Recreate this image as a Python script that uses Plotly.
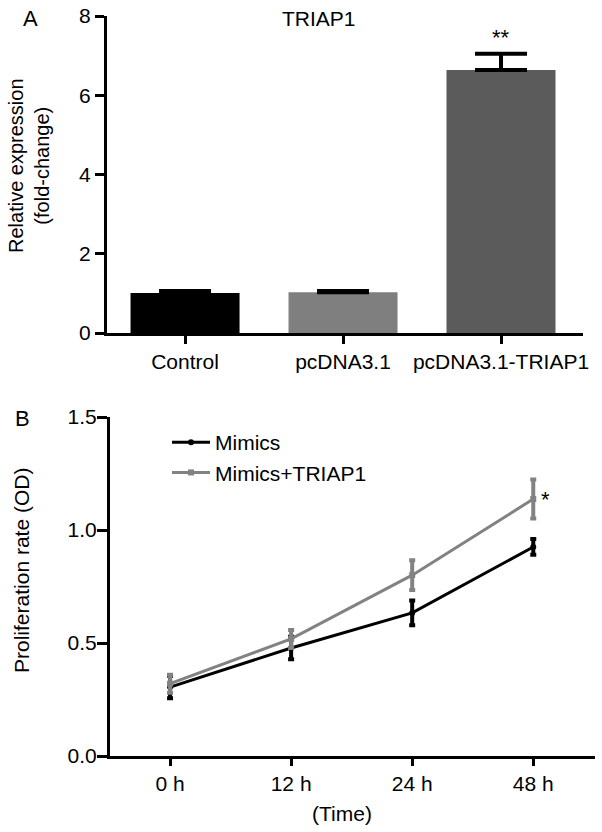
import plotly.graph_objects as go

# ---- Panel A data ----
groups = ["Control", "pcDNA3.1", "pcDNA3.1-TRIAP1"]
expr_vals = [1.01, 1.03, 6.64]
expr_err = [0.05, 0.03, 0.41]
bar_colors = ["#000000", "#7f7f7f", "#5b5b5b"]
a_yticks = [0, 2, 4, 6, 8]

# ---- Panel B data ----
times = ["0 h", "12 h", "24 h", "48 h"]
mimics = [0.305, 0.478, 0.633, 0.925]
mimics_err = [0.05, 0.05, 0.055, 0.035]
mimics_triap = [0.32, 0.518, 0.80, 1.137]
mimics_triap_err = [0.04, 0.04, 0.066, 0.086]
b_yticks = [0.0, 0.5, 1.0, 1.5]
b_yticklabels = ["0.0", "0.5", "1.0", "1.5"]

W, H = 602, 832
FONT = "Liberation Sans, Arial, sans-serif"

def px_x(x):
    return x / W

def px_y(y):
    return 1 - y / H

fig = go.Figure()

fig.add_trace(go.Bar(
    x=groups, y=expr_vals, width=0.69,
    marker=dict(color=bar_colors, line=dict(width=0)),
    error_y=dict(type="data", symmetric=False, array=expr_err,
                 arrayminus=[0, 0, 0], color="#000000", thickness=4, width=26),
    xaxis="x", yaxis="y", showlegend=False,
))

fig.add_trace(go.Scatter(
    x=times, y=mimics, mode="lines+markers", name="Mimics",
    line=dict(color="#000000", width=3),
    marker=dict(symbol="circle", size=6, color="#000000"),
    error_y=dict(type="data", array=mimics_err, color="#000000", thickness=4, width=3),
    xaxis="x2", yaxis="y2",
))
fig.add_trace(go.Scatter(
    x=times, y=mimics_triap, mode="lines+markers", name="Mimics+TRIAP1",
    line=dict(color="#828282", width=3),
    marker=dict(symbol="square", size=6, color="#828282"),
    error_y=dict(type="data", array=mimics_triap_err, color="#828282", thickness=4, width=3),
    xaxis="x2", yaxis="y2",
))

axis_common = dict(showline=True, linecolor="#000000", linewidth=3, showgrid=False,
                   zeroline=False, ticks="outside", tickcolor="#000000", tickwidth=3,
                   automargin=False, tickfont=dict(family=FONT, size=21, color="#000000"))

def txt(text, x, y, size=21, angle=0, xref="paper", yref="paper", **kw):
    d = dict(text=text, x=x, y=y, xref=xref, yref=yref, showarrow=False,
             textangle=angle, font=dict(family=FONT, size=size, color="#000000"))
    d.setdefault("xanchor", "center")
    d.setdefault("yanchor", "middle")
    d.update(kw)
    return d

annotations = [
    txt("A", px_x(30), px_y(18), size=22),
    txt("TRIAP1", px_x(319), px_y(18), size=21),
    txt("Relative expression<br>(fold-change)", px_x(29), px_y(166), size=20, angle=-90),
    txt("**", groups[2], expr_vals[2] + expr_err[2], size=22, xref="x", yref="y",
        yanchor="bottom", yshift=2),
    txt("B", px_x(22), px_y(418), size=22),
    txt("Proliferation rate (OD)", px_x(21), px_y(571), size=21, angle=-90),
    txt("(Time)", px_x(342), px_y(813), size=21),
    txt("*", times[3], mimics_triap[3], size=22, xref="x2", yref="y2",
        xanchor="left", xshift=6),
]

fig.update_layout(
    width=W, height=H,
    margin=dict(l=0, r=0, t=0, b=0),
    paper_bgcolor="#ffffff", plot_bgcolor="#ffffff",
    font=dict(family=FONT, size=21, color="#000000"),
    xaxis=dict(domain=[px_x(107), px_x(583)], anchor="y", range=[-0.494, 2.519],
               ticklen=8, type="category", **axis_common),
    yaxis=dict(domain=[px_y(333), px_y(16)], anchor="x", range=[0, 8],
               tickvals=a_yticks, ticklen=9, **axis_common),
    xaxis2=dict(domain=[px_x(110), px_x(595)], anchor="y2", range=[-0.496, 3.51],
                ticklen=7, type="category", **axis_common),
    yaxis2=dict(domain=[px_y(756), px_y(417)], anchor="x2", range=[0, 1.5],
                tickvals=b_yticks, ticktext=b_yticklabels, ticklen=10,
                ticklabelstandoff=-4, **axis_common),
    legend=dict(x=px_x(167), y=px_y(422), xanchor="left", yanchor="top",
                bgcolor="rgba(0,0,0,0)", font=dict(family=FONT, size=21, color="#000000"),
                tracegroupgap=0, itemwidth=38),
    annotations=annotations,
)

fig.write_html("out.html", config={"displayModeBar": False},
               post_script="document.body.style.margin='0';document.body.style.padding='0';")
